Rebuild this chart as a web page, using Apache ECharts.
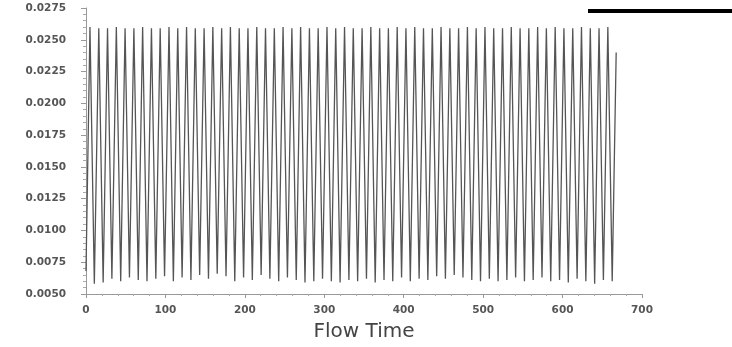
<!DOCTYPE html>
<html>
<head>
<meta charset="utf-8">
<script src="https://cdn.jsdelivr.net/npm/echarts@6/dist/echarts.min.js"></script>
<style>html,body{margin:0;padding:0;background:#fff;}#c{width:732px;height:347px;}</style>
</head>
<body>
<div id="c"></div>
<script>
// Flow time of the start and end points
const startPoint = [0, 0.0068];
const endPoint = [667.5, 0.0240];
// Peak (local max) times and values
const peakTime = [5, 16.1, 27.1, 38.2, 49.2, 60.3, 71.3, 82.4, 93.4, 104.5,
  115.5, 126.6, 137.6, 148.7, 159.7, 170.8, 181.8, 192.9, 203.9, 215,
  226, 237.1, 248.1, 259.2, 270.2, 281.3, 292.3, 303.4, 314.4, 325.5,
  336.5, 347.6, 358.6, 369.7, 380.7, 391.8, 402.8, 413.9, 424.9, 436,
  447, 458.1, 469.1, 480.2, 491.2, 502.3, 513.3, 524.4, 535.4, 546.5,
  557.5, 568.6, 579.6, 590.7, 601.7, 612.8, 623.8, 634.9, 645.9, 657];
const peakValue = [0.0260, 0.0259, 0.0259, 0.0260, 0.0259, 0.0259, 0.0260, 0.0259, 0.0259, 0.0260,
  0.0259, 0.0260, 0.0259, 0.0259, 0.0260, 0.0259, 0.0260, 0.0259, 0.0259, 0.0260,
  0.0259, 0.0259, 0.0260, 0.0259, 0.0260, 0.0259, 0.0259, 0.0260, 0.0259, 0.0260,
  0.0259, 0.0259, 0.0260, 0.0259, 0.0259, 0.0260, 0.0259, 0.0260, 0.0259, 0.0259,
  0.0260, 0.0259, 0.0259, 0.0260, 0.0259, 0.0260, 0.0259, 0.0259, 0.0260, 0.0259,
  0.0259, 0.0260, 0.0259, 0.0260, 0.0259, 0.0259, 0.0260, 0.0259, 0.0259, 0.0260];
// Trough (local min) times and values
const troughTime = [10.5, 21.6, 32.6, 43.7, 54.7, 65.8, 76.8, 87.9, 98.9, 110,
  121, 132.1, 143.1, 154.2, 165.2, 176.3, 187.3, 198.4, 209.4, 220.5,
  231.5, 242.6, 253.6, 264.7, 275.7, 286.8, 297.8, 308.9, 319.9, 331,
  342, 353.1, 364.1, 375.2, 386.2, 397.3, 408.3, 419.4, 430.4, 441.5,
  452.5, 463.6, 474.6, 485.7, 496.7, 507.8, 518.8, 529.9, 540.9, 552,
  563, 574.1, 585.1, 596.2, 607.2, 618.3, 629.3, 640.4, 651.4, 662.5];
const troughValue = [0.0058, 0.0059, 0.0062, 0.0060, 0.0063, 0.0061, 0.0060, 0.0062, 0.0064, 0.0060,
  0.0063, 0.0061, 0.0065, 0.0062, 0.0066, 0.0064, 0.0060, 0.0063, 0.0061, 0.0065,
  0.0062, 0.0060, 0.0063, 0.0061, 0.0059, 0.0060, 0.0062, 0.0060, 0.0059, 0.0061,
  0.0060, 0.0062, 0.0059, 0.0061, 0.0060, 0.0063, 0.0060, 0.0062, 0.0061, 0.0064,
  0.0062, 0.0065, 0.0063, 0.0061, 0.0060, 0.0062, 0.0060, 0.0061, 0.0063, 0.0060,
  0.0061, 0.0063, 0.0060, 0.0061, 0.0059, 0.0062, 0.0060, 0.0058, 0.0061, 0.0060];
const xTicks = { min: 0, max: 700, interval: 100 };
const yTicks = { min: 0.0050, max: 0.0275, interval: 0.0025 };
const seriesName = 'report-def';
const xTitle = 'Flow Time';

const data = [startPoint];
for (let i = 0; i < peakTime.length; i++) {
  data.push([peakTime[i], peakValue[i]]);
  data.push([troughTime[i], troughValue[i]]);
}
data.push(endPoint);

const chart = echarts.init(document.getElementById('c'), null, { renderer: 'canvas' });
const labelFont = { fontFamily: 'DejaVu Sans', fontWeight: 'bold', fontSize: 10.5, color: '#555' };
chart.setOption({
  animation: false,
  backgroundColor: '#fff',
  grid: { left: 86, right: 90, top: 8, bottom: 52 },
  legend: {
    left: 588, top: 4,
    padding: 0,
    icon: 'rect',
    itemWidth: 144, itemHeight: 4,
    itemStyle: { color: '#000' },
    textStyle: { color: '#000', fontSize: 12, lineHeight: 14 },
    data: [seriesName]
  },
  xAxis: {
    type: 'value', min: xTicks.min, max: xTicks.max, interval: xTicks.interval,
    name: xTitle, nameLocation: 'middle', nameGap: 28,
    nameTextStyle: { fontFamily: 'DejaVu Sans', fontSize: 20, color: '#444' },
    axisLine: { lineStyle: { color: '#999', width: 1 } },
    axisTick: { show: true, length: 4, lineStyle: { color: '#999' } },
    minorTick: { show: true, splitNumber: 5, length: 2, lineStyle: { color: '#aaa' } },
    axisLabel: Object.assign({ margin: 11 }, labelFont),
    splitLine: { show: false }
  },
  yAxis: {
    type: 'value', min: yTicks.min, max: yTicks.max, interval: yTicks.interval,
    axisLine: { show: true, lineStyle: { color: '#999', width: 1 } },
    axisTick: { show: true, length: 5, lineStyle: { color: '#999' } },
    minorTick: { show: true, splitNumber: 5, length: 3, lineStyle: { color: '#aaa' } },
    axisLabel: Object.assign({ margin: 20, formatter: v => v.toFixed(4) }, labelFont),
    splitLine: { show: false }
  },
  series: [{
    name: seriesName,
    type: 'line',
    data: data,
    symbol: 'none',
    lineStyle: { color: '#555', width: 1.3 },
    itemStyle: { color: '#000' }
  }]
});
</script>
</body>
</html>
